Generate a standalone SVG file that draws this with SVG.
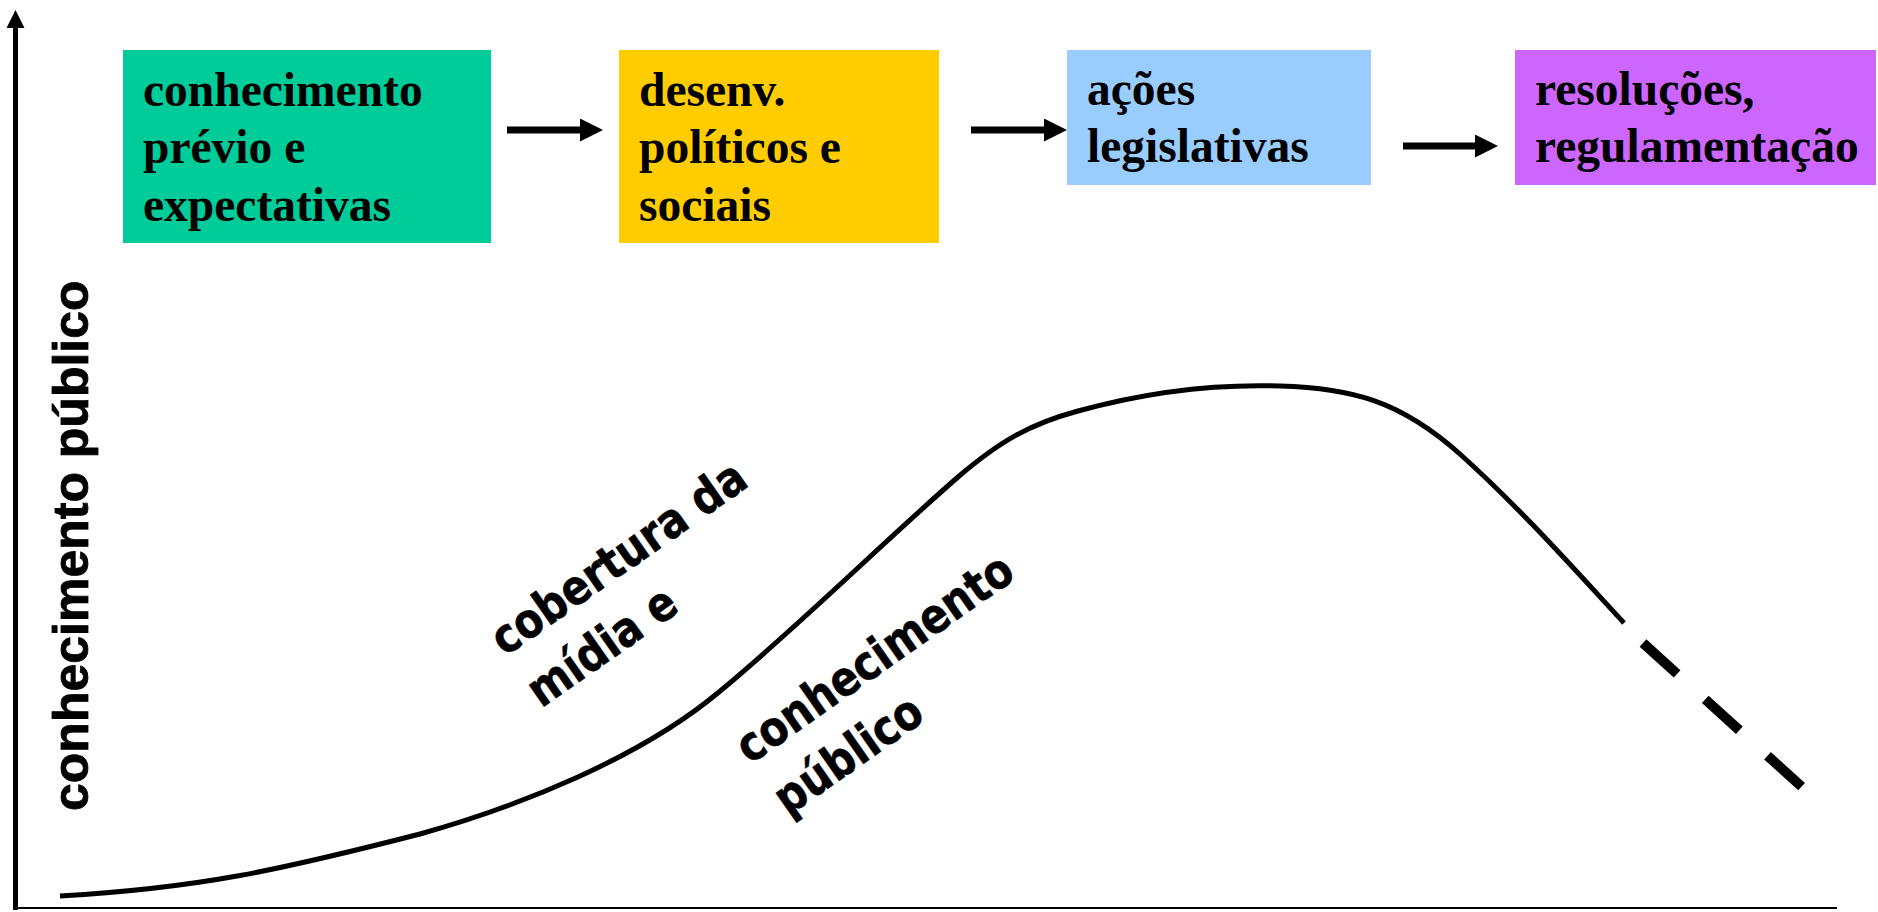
<svg xmlns="http://www.w3.org/2000/svg" width="1878" height="912" viewBox="0 0 1878 912">
  <style>
    .box-text { font-family: "Liberation Serif", "Times New Roman", serif; font-weight: bold; font-size: 47.5px; fill: #000; }
    .axis-label { font-family: "Liberation Sans", Arial, sans-serif; font-weight: bold; font-size: 50px; fill: #000; stroke: #000; stroke-width: 0.8px; }
    .curve-label { font-family: "DejaVu Sans", Verdana, sans-serif; font-weight: bold; font-size: 48px; fill: #000; stroke: #000; stroke-width: 0.6px; }
    .flow { stroke: #000; stroke-width: 7; fill: none; }
    .axis { stroke: #000; fill: none; }
    .curve { stroke: #000; stroke-width: 5; fill: none; stroke-linecap: butt; }
    .dashes { stroke: #000; stroke-width: 10; fill: none; stroke-dasharray: 46 38; }
  </style>
  <defs>
    <marker id="flowhead" markerUnits="userSpaceOnUse" markerWidth="24" markerHeight="24" refX="2" refY="11.5" orient="auto">
      <path d="M0,0 L23,11.5 L0,23 Z" fill="#000"/>
    </marker>
    <marker id="axishead" markerUnits="userSpaceOnUse" markerWidth="19" markerHeight="19" refX="1" refY="9" orient="auto">
      <path d="M0,0 L18,9 L0,18 Z" fill="#000"/>
    </marker>
  </defs>
  <rect width="1878" height="912" fill="#fff"/>

  <g id="axes">
    <line class="axis" x1="15.5" y1="910" x2="15.5" y2="27" stroke-width="5" marker-end="url(#axishead)"/>
    <line class="axis" x1="13" y1="908" x2="1837" y2="908" stroke-width="2"/>
    <text class="axis-label" transform="translate(88,811) rotate(-90)">conhecimento público</text>
  </g>

  <g id="node-previo">
    <rect x="123" y="50" width="368" height="193" fill="#00CC99"/>
    <text class="box-text" x="143" y="106">conhecimento</text>
    <text class="box-text" x="143" y="163">prévio e</text>
    <text class="box-text" x="143" y="221">expectativas</text>
  </g>
  <g id="node-desenv">
    <rect x="619" y="50" width="320" height="193" fill="#FFCC00"/>
    <text class="box-text" x="639" y="106">desenv.</text>
    <text class="box-text" x="639" y="163">políticos e</text>
    <text class="box-text" x="639" y="221">sociais</text>
  </g>
  <g id="node-acoes">
    <rect x="1067" y="50" width="304" height="135" fill="#99CCFF"/>
    <text class="box-text" x="1087" y="105">ações</text>
    <text class="box-text" x="1087" y="162">legislativas</text>
  </g>
  <g id="node-resolucoes">
    <rect x="1515" y="50" width="361" height="135" fill="#CC66FF"/>
    <text class="box-text" x="1535" y="105">resoluções,</text>
    <text class="box-text" x="1535" y="162">regulamentação</text>
  </g>

  <g id="connectors">
    <line class="flow" x1="507" y1="130" x2="582" y2="130" marker-end="url(#flowhead)"/>
    <line class="flow" x1="971" y1="130" x2="1046" y2="130" marker-end="url(#flowhead)"/>
    <line class="flow" x1="1403" y1="146" x2="1477" y2="146" marker-end="url(#flowhead)"/>
  </g>

  <g id="curve">
    <path class="curve" d="M60,896 C200,888 280,870 420,834 C520,806 640,758 719,692 C800,625 880,545 958,477 C1000,441 1030,424 1078,411 C1150,391 1220,384 1280,386 C1350,388 1400,400 1461,455 C1520,508 1575,570 1624,623"/>
    <line class="dashes" x1="1643" y1="643" x2="1802" y2="787"/>
  </g>

  <g id="curve-labels">
    <text class="curve-label" transform="translate(505,657) rotate(-35) scale(0.86,1)">
      <tspan x="0" y="0">cobertura da</tspan>
      <tspan x="0" y="63">mídia e</tspan>
    </text>
    <text class="curve-label" transform="translate(750,765) rotate(-35) scale(0.86,1)">
      <tspan x="0" y="0">conhecimento</tspan>
      <tspan x="2" y="64">público</tspan>
    </text>
  </g>
</svg>
